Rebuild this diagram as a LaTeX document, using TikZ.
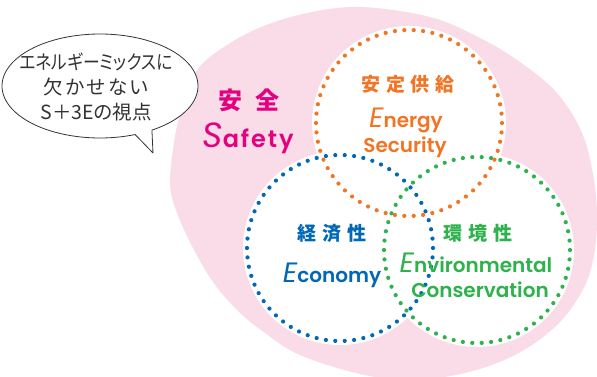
\documentclass[tikz,border=0pt]{standalone}
\usepackage{graphicx}
\usepackage{fontspec}
\setmainfont{Noto Sans CJK JP}
\newfontfamily\jp{Noto Sans CJK JP}
\newfontfamily\jpp{Noto Sans CJK JP}[RawFeature=+palt]
\newfontfamily\pop{Poppins}
\newfontfamily\popsb{Poppins}[UprightFont=* SemiBold]
\definecolor{pinkbg}{HTML}{FADCE8}
\definecolor{cmag}{HTML}{E5007F}
\definecolor{corg}{HTML}{F07524}
\definecolor{cblu}{HTML}{0068B7}
\definecolor{cgrn}{HTML}{2EB24B}
\definecolor{ink}{HTML}{333333}
\begin{document}
\begin{tikzpicture}[x=1pt,y=-1pt,
  dotc/.style={circle,minimum size=186pt,inner sep=0pt,draw=#1,line width=4.2pt,line cap=round,dash pattern=on 0pt off 9.425pt},
  jlab/.style={font=\jp\bfseries\fontsize{19}{19}\selectfont,text=#1,inner sep=0pt},
  elab/.style={font=\popsb\fontsize{20}{20}\selectfont,text=#1,anchor=base,inner sep=0pt}]
\useasboundingbox (0,0) rectangle (597,377);
\clip (0,0) rectangle (597,377);
% pink blob
\fill[pinkbg] plot[smooth cycle,tension=0.6] coordinates {
 (303,14) (360,7) (430,17) (480,38) (520,62) (557,93) (582,133) (594,180)
 (597,225) (592,265) (580,295) (555,327) (515,355) (465,373) (410,380)
 (360,374) (300,355) (265,333) (237,310) (213,282) (193,248) (177,213)
 (170,185) (173,150) (178,122) (188,92) (203,63) (250,32)};
% white interiors
\fill[white] (409,123) circle (97pt) (340,248) circle (97pt) (477,250) circle (97pt);
% dotted circles
\node[dotc=cblu] (eco) at (340,248) {};
\node[dotc=cgrn] (env) at (477,250) {};
\node[dotc=corg] (sec) at (409,123) {};
% safety
\node[jlab=cmag,font=\jp\bfseries\fontsize{24}{24}\selectfont] (anzen) at (249,100) {安\hspace{13pt}全};
\node[text=cmag,anchor=base,inner sep=0pt] (safety) at (248,147)
  {{\pop\itshape\fontsize{35}{35}\selectfont S}{\popsb\fontsize{24}{24}\selectfont\addfontfeatures{LetterSpace=8}afety}};
% energy security
\node[jlab=corg] (antei) at (408,84) {安\hspace{5.5pt}定\hspace{5.5pt}供\hspace{5.5pt}給};
\node[elab=corg] (energy) at (406,128) {{\pop\itshape\fontsize{28}{28}\selectfont E}nergy};
\node[elab=corg] (security) at (405,153) {Security};
% economy
\node[jlab=cblu] (keizai) at (332,233) {経\hspace{6pt}済\hspace{6pt}性};
\node[elab=cblu] (economy) at (332,282) {{\pop\itshape\fontsize{28}{28}\selectfont E}conomy};
% environment
\node[jlab=cgrn] (kankyo) at (478,233) {環\hspace{6pt}境\hspace{6pt}性};
\node[elab=cgrn] (environ) at (476,272) {{\pop\itshape\fontsize{28}{28}\selectfont E}nvironmental};
\node[elab=cgrn] (conserv) at (480,297) {Conservation};
% speech bubble
\draw[ink,line width=0.8pt,fill=white,line join=round]
  plot[domain=69:418,samples=120] ({100+98*cos(\x)},{86+52*sin(\x)})
  -- (153,153) -- cycle;
\node[text=ink,align=center,font=\jpp\fontsize{19.5}{25}\selectfont,inner sep=0pt] (bubtext) at (96,87)
  {\scalebox{0.86}[1]{エネルギーミックスに}\\欠\hspace{2.7pt}か\hspace{2.7pt}せ\hspace{2.7pt}な\hspace{2.7pt}い\\S＋3Eの視点};
\end{tikzpicture}
\end{document}
